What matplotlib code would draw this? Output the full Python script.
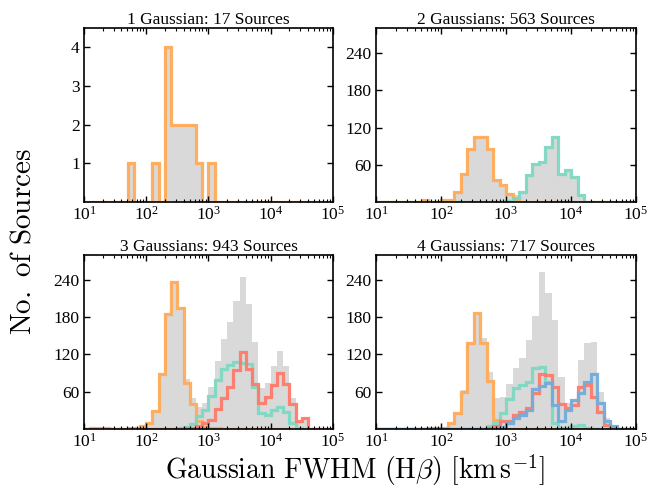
import numpy as np
import matplotlib
matplotlib.use('Agg')
import matplotlib.pyplot as plt
from matplotlib.ticker import LogLocator, NullFormatter, FixedLocator

plt.rcParams['font.family'] = ['Liberation Serif', 'DejaVu Serif']
plt.rcParams['mathtext.fontset'] = 'stix'

# bins: 0.1 dex from 10^1 to 10^5
log_edges = np.linspace(1, 5, 41)
edges = 10 ** log_edges


def series(start, vals):
    a = np.zeros(40)
    a[start:start + len(vals)] = vals
    return a


titles = ["1 Gaussian: 17 Sources", "2 Gaussians: 563 Sources",
          "3 Gaussians: 943 Sources", "4 Gaussians: 717 Sources"]

# Panel 1
p1_grey = series(7, [1, 0, 0, 0, 1, 0, 4, 2, 2, 2, 2, 1, 0, 1])
p1_orange = series(7, [1, 0, 0, 0, 1, 0, 4, 2, 2, 2, 2, 1, 0, 1])

# Panel 2
p2_grey = series(7, [3, 0, 0, 3, 3, 16, 45, 85, 105, 105, 86, 36, 28, 15, 11, 17, 43,
                     62, 65, 89, 105, 46, 52, 41, 11, 1])
p2_orange = series(7, [3, 0, 0, 3, 3, 16, 45, 85, 105, 105, 86, 36, 28, 13, 5])
p2_teal = series(20, [2, 6, 17, 43, 62, 65, 89, 105, 46, 52, 41, 11, 1])

# Panel 3
p3_grey = series(1, [1, 1, 1, 0, 0, 0, 1, 2, 4, 9, 29, 89, 185, 237, 194, 80, 50, 36, 42,
                     68, 110, 145, 172, 205, 245, 201, 140, 66, 74, 101, 126, 101, 49, 13, 17])
p3_orange = series(1, [1, 1, 1, 0, 0, 0, 1, 2, 4, 9, 29, 89, 185, 237, 194, 74, 40, 12, 3, 2, 1])
p3_teal = series(15, [1, 3, 8, 20, 30, 53, 79, 96, 103, 108, 106, 104, 68, 25, 22, 30, 36, 28, 9, 1])
p3_red = series(16, [1, 2, 4, 9, 14, 32, 49, 68, 95, 124, 97, 72, 41, 52, 71, 90, 73, 40, 12, 17])

# Panel 4
p4_grey = series(8, [2, 2, 2, 9, 25, 62, 140, 187, 146, 92, 49, 52, 73, 98, 114, 143, 181,
                     252, 218, 175, 84, 41, 47, 111, 138, 140, 60, 17, 4])
p4_orange = series(8, [2, 2, 2, 9, 25, 60, 138, 187, 138, 77, 15])
p4_teal = series(17, [4, 10, 25, 48, 66, 70, 76, 98, 100, 75, 9, 1, 1, 4, 6, 2])
p4_red = series(17, [2, 4, 12, 12, 23, 28, 33, 57, 89, 86, 68, 40, 33, 39, 68, 70, 52, 28, 6])
p4_blue = series(18, [2, 3, 9, 17, 23, 31, 64, 69, 74, 39, 12, 31, 47, 57, 76, 89, 41, 12, 4])

GREY = '#d9d9d9'
ORANGE = '#ffab5a'
TEAL = '#7fd8c2'
RED = '#ff7a6a'
BLUE = '#72acda'

panels = [
    (p1_grey, [(p1_orange, ORANGE)]),
    (p2_grey, [(p2_orange, ORANGE), (p2_teal, TEAL)]),
    (p3_grey, [(p3_orange, ORANGE), (p3_teal, TEAL), (p3_red, RED)]),
    (p4_grey, [(p4_orange, ORANGE), (p4_teal, TEAL), (p4_red, RED), (p4_blue, BLUE)]),
]

positions = [
    [0.129, 0.590, 0.3825, 0.353],
    [0.5776, 0.590, 0.3994, 0.353],
    [0.129, 0.130, 0.3825, 0.353],
    [0.5776, 0.130, 0.3994, 0.353],
]

fig = plt.figure(figsize=(6.51, 4.93), dpi=100)

for i, ((grey, lines), pos, title) in enumerate(zip(panels, positions, titles)):
    ax = fig.add_axes(pos)
    ax.stairs(grey, edges, fill=True, color=GREY, lw=0)
    for vals, col in lines:
        ax.stairs(vals, edges, color=col, lw=2.3, alpha=0.95)
    ax.set_xscale('log')
    ax.set_xlim(1e1, 1e5)
    if i == 0:
        ax.set_ylim(0, 4.5)
        ax.yaxis.set_major_locator(FixedLocator([1, 2, 3, 4]))
    else:
        ax.set_ylim(0, 280)
        ax.yaxis.set_major_locator(FixedLocator([60, 120, 180, 240]))
    ax.xaxis.set_major_locator(LogLocator(base=10, numticks=10))
    ax.xaxis.set_minor_locator(LogLocator(base=10, subs=np.arange(2, 10), numticks=20))
    ax.xaxis.set_minor_formatter(NullFormatter())
    ax.tick_params(which='both', direction='in', top=True, right=True, labelsize=12.5, pad=3)
    ax.tick_params(which='major', length=4, width=1)
    ax.tick_params(which='minor', length=2, width=0.8)
    for s in ax.spines.values():
        s.set_linewidth(1.2)
    ax.set_title(title, fontsize=12.5, pad=3)

fig.text(0.036, 0.51, r'$\mathrm{No.\ of\ Sources}$', rotation=90, ha='center', va='center',
         fontsize=21, math_fontfamily='cm')
fig.text(0.545, 0.046, r'$\mathrm{Gaussian\ FWHM\ (H}\beta\mathrm{)\ [km\,s^{-1}]}$',
         ha='center', va='center', fontsize=20, math_fontfamily='cm')

fig.savefig('out.png', dpi=100)
